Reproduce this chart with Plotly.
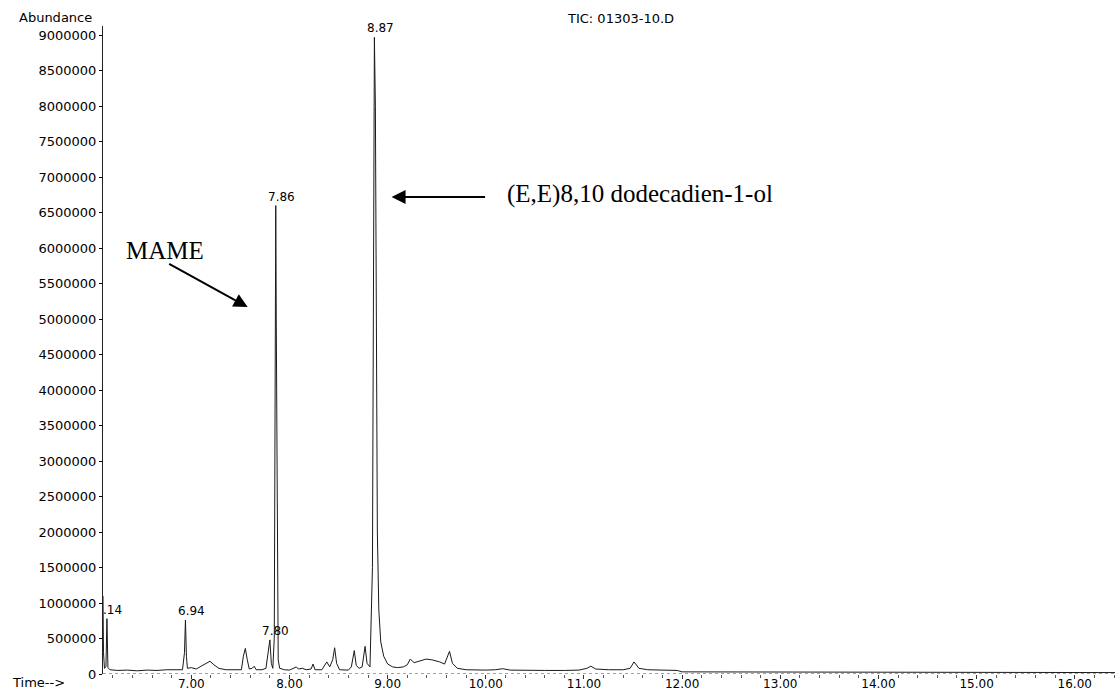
import plotly.graph_objects as go

# Retention time (min) and abundance
time_min = [
    6.100, 6.105, 6.115, 6.130, 6.140, 6.150, 6.170, 6.25, 6.35, 6.45, 6.55, 6.65, 6.75, 6.85,
    6.910, 6.930, 6.940, 6.950, 6.960, 7.00, 7.05, 7.10, 7.15, 7.19, 7.23, 7.28, 7.35, 7.45,
    7.510, 7.530, 7.550, 7.570, 7.590, 7.62, 7.64, 7.66, 7.72, 7.76, 7.78, 7.80, 7.815, 7.83,
    7.845, 7.855, 7.860, 7.865, 7.875, 7.885, 7.90, 7.95, 8.00, 8.05, 8.07, 8.09, 8.13, 8.17,
    8.22, 8.24, 8.26, 8.33, 8.36, 8.38, 8.41, 8.44, 8.46, 8.48, 8.51, 8.60, 8.63, 8.66, 8.68,
    8.71, 8.74, 8.77, 8.79, 8.82, 8.845, 8.855, 8.865, 8.875, 8.885, 8.895, 8.91, 8.93, 8.96,
    9.00, 9.05, 9.10, 9.16, 9.20, 9.23, 9.27, 9.32, 9.39, 9.45, 9.53, 9.58, 9.61, 9.63, 9.66,
    9.71, 9.80, 9.90, 10.00, 10.10, 10.17, 10.25, 10.40, 10.60, 10.80, 10.95, 11.03, 11.07,
    11.12, 11.25, 11.40, 11.47, 11.51, 11.56, 11.65, 11.80, 11.95, 12.00, 12.50, 13.00, 13.50,
    14.00, 14.50, 15.00, 15.50, 16.00, 16.41,
]
abundance = [
    1100000, 300000, 80000, 100000, 780000, 90000, 60000, 50000, 55000, 45000, 55000, 50000, 60000, 55000,
    60000, 300000, 760000, 250000, 80000, 90000, 70000, 110000, 150000, 180000, 130000, 80000, 60000, 55000,
    60000, 250000, 360000, 200000, 70000, 80000, 110000, 60000, 60000, 80000, 300000, 480000, 150000, 80000,
    500000, 4000000, 6600000, 5000000, 1200000, 200000, 80000, 60000, 55000, 80000, 100000, 70000, 80000, 60000,
    70000, 140000, 60000, 60000, 130000, 170000, 100000, 200000, 370000, 150000, 60000, 55000, 100000, 330000, 120000,
    80000, 100000, 390000, 150000, 100000, 1500000, 6000000, 8970000, 8000000, 4500000, 2000000, 900000, 450000, 250000,
    140000, 100000, 90000, 100000, 130000, 210000, 160000, 180000, 210000, 200000, 170000, 140000, 250000, 320000, 150000,
    80000, 60000, 55000, 55000, 60000, 75000, 55000, 50000, 50000, 50000, 55000, 80000, 110000,
    70000, 60000, 60000, 80000, 170000, 80000, 60000, 55000, 50000, 30000, 30000, 25000, 25000,
    22000, 22000, 20000, 20000, 20000, 20000,
]

# Labelled peaks
peak_times = [6.14, 6.94, 7.80, 7.86, 8.87]
peak_heights = [780000, 760000, 480000, 6600000, 8970000]
peak_labels = [".14", "6.94", "7.80", "7.86", "8.87"]

y_ticks = list(range(0, 9000001, 500000))
x_ticks = [7, 8, 9, 10, 11, 12, 13, 14, 15, 16]
x_ticktext = ["%.2f" % v for v in x_ticks]

fig = go.Figure()
fig.add_trace(go.Scatter(x=time_min, y=abundance, mode="lines",
                         line=dict(color="#1a1a1a", width=1), hoverinfo="skip",
                         showlegend=False))

label_font = dict(family="DejaVu Sans", size=12, color="black")
for t, h, lab in zip(peak_times, peak_heights, peak_labels):
    fig.add_annotation(x=t, y=h, text=lab, showarrow=False, xanchor="center",
                       yanchor="bottom", xshift=6, yshift=0, font=label_font)

# MAME arrow
fig.add_annotation(x=7.574, y=5170000, ax=-80, ay=-44, axref="pixel", ayref="pixel",
                   text="", showarrow=True, arrowhead=2, arrowsize=1.4, arrowwidth=2,
                   arrowcolor="black")
fig.add_annotation(x=6.73, y=5970000, text="MAME", showarrow=False, xanchor="center",
                   font=dict(family="Liberation Serif", size=25, color="black"))
# Dodecadienol arrow
fig.add_annotation(x=9.04, y=6720000, ax=95, ay=0, axref="pixel", ayref="pixel",
                   text="", showarrow=True, arrowhead=2, arrowsize=1.4, arrowwidth=2,
                   arrowcolor="black")
fig.add_annotation(x=10.2, y=6760000, text="(E,E)8,10 dodecadien-1-ol", showarrow=False,
                   xanchor="left", font=dict(family="Liberation Serif", size=25, color="black"))

small = dict(family="DejaVu Sans", size=13, color="black")
fig.add_annotation(xref="paper", yref="paper", x=-0.0465, y=1.0, yshift=9, text="Abundance",
                   showarrow=False, xanchor="center", yanchor="middle", font=small)
fig.add_annotation(xref="paper", yref="paper", x=0.511, y=1.0, yshift=8, text="TIC: 01303-10.D",
                   showarrow=False, xanchor="center", yanchor="middle", font=small)
fig.add_annotation(xref="paper", yref="paper", x=-0.064, y=0, yshift=-8, text="Time-->",
                   showarrow=False, xanchor="center", yanchor="middle", font=small)

# dotted baseline of the time axis
fig.add_shape(type="line", xref="paper", yref="y", x0=0, x1=1, y0=0, y1=0,
              line=dict(color="#444", width=1, dash="dot"))

fig.update_layout(
    width=1117, height=690,
    margin=dict(l=103, r=2, t=26, b=16),
    paper_bgcolor="white", plot_bgcolor="white",
    showlegend=False,
    xaxis=dict(range=[6.10, 16.41], tickvals=x_ticks, ticktext=x_ticktext, automargin=False,
               ticks="outside", ticklen=4, tickcolor="#333", showgrid=False, zeroline=False,
               showline=False, ticklabelstandoff=-5,
               tickfont=dict(family="DejaVu Sans", size=12, color="black"),
               minor=dict(dtick=0.2, tick0=7, ticks="outside", ticklen=3, tickcolor="#555",
                          showgrid=False)),
    yaxis=dict(range=[0, 9130000], tickvals=y_ticks, ticktext=[str(v) for v in y_ticks],
               automargin=False,
               ticks="outside", ticklen=3, tickcolor="black", showgrid=False, zeroline=False,
               showline=True, linecolor="#222", linewidth=1,
               tickfont=dict(family="DejaVu Sans", size=13, color="black")),
)

fig.write_html("out.html")
